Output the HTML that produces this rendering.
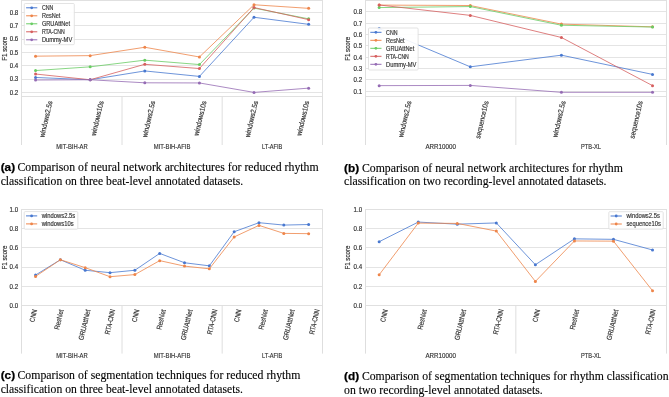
<!DOCTYPE html>
<html><head><meta charset="utf-8"><style>
html,body{margin:0;padding:0;background:#fff;}
body{width:669px;height:397px;overflow:hidden;position:relative;}
</style></head><body>
<svg width="669" height="397" viewBox="0 0 669 397" font-family="Liberation Sans" style="position:absolute;left:0;top:0;filter:blur(0.3px)">
<style>.s{stroke:#333;stroke-width:0.17px;}</style>
<line x1="21.9" y1="92.5" x2="322.3" y2="92.5" stroke="#e4e4e4" stroke-width="1"/>
<text x="18.3" y="94.6" text-anchor="end" font-size="6.75" class="s" fill="#333333" textLength="8.59" lengthAdjust="spacingAndGlyphs">0.2</text>
<line x1="21.9" y1="79.5" x2="322.3" y2="79.5" stroke="#e4e4e4" stroke-width="1"/>
<text x="18.3" y="81.28" text-anchor="end" font-size="6.75" class="s" fill="#333333" textLength="8.59" lengthAdjust="spacingAndGlyphs">0.3</text>
<line x1="21.9" y1="65.5" x2="322.3" y2="65.5" stroke="#e4e4e4" stroke-width="1"/>
<text x="18.3" y="67.96" text-anchor="end" font-size="6.75" class="s" fill="#333333" textLength="8.59" lengthAdjust="spacingAndGlyphs">0.4</text>
<line x1="21.9" y1="52.5" x2="322.3" y2="52.5" stroke="#e4e4e4" stroke-width="1"/>
<text x="18.3" y="54.64" text-anchor="end" font-size="6.75" class="s" fill="#333333" textLength="8.59" lengthAdjust="spacingAndGlyphs">0.5</text>
<line x1="21.9" y1="39.5" x2="322.3" y2="39.5" stroke="#e4e4e4" stroke-width="1"/>
<text x="18.3" y="41.32" text-anchor="end" font-size="6.75" class="s" fill="#333333" textLength="8.59" lengthAdjust="spacingAndGlyphs">0.6</text>
<line x1="21.9" y1="25.5" x2="322.3" y2="25.5" stroke="#e4e4e4" stroke-width="1"/>
<text x="18.3" y="28" text-anchor="end" font-size="6.75" class="s" fill="#333333" textLength="8.59" lengthAdjust="spacingAndGlyphs">0.7</text>
<line x1="21.9" y1="12.5" x2="322.3" y2="12.5" stroke="#e4e4e4" stroke-width="1"/>
<text x="18.3" y="14.68" text-anchor="end" font-size="6.75" class="s" fill="#333333" textLength="8.59" lengthAdjust="spacingAndGlyphs">0.8</text>
<rect x="21.5" y="0.5" width="301" height="96" fill="none" stroke="#e0e0e0" stroke-width="1"/>
<text x="5.4" y="48.7" transform="rotate(-90 5.4 48.7)" text-anchor="middle" font-size="7.12" class="s" fill="#333333" dominant-baseline="central" textLength="24.03" lengthAdjust="spacingAndGlyphs">F1 score</text>
<polyline points="35.55,77.48 90.17,79.75 144.79,70.95 199.41,76.42 254.03,17.28 308.65,24.33" fill="none" stroke="#4878d0" stroke-width="0.8"/>
<circle cx="35.55" cy="77.48" r="1.5" fill="#4878d0"/>
<circle cx="90.17" cy="79.75" r="1.5" fill="#4878d0"/>
<circle cx="144.79" cy="70.95" r="1.5" fill="#4878d0"/>
<circle cx="199.41" cy="76.42" r="1.5" fill="#4878d0"/>
<circle cx="254.03" cy="17.28" r="1.5" fill="#4878d0"/>
<circle cx="308.65" cy="24.33" r="1.5" fill="#4878d0"/>
<polyline points="35.55,56.17 90.17,55.64 144.79,47.25 199.41,56.97 254.03,4.75 308.65,8.35" fill="none" stroke="#ee854a" stroke-width="0.8"/>
<circle cx="35.55" cy="56.17" r="1.5" fill="#ee854a"/>
<circle cx="90.17" cy="55.64" r="1.5" fill="#ee854a"/>
<circle cx="144.79" cy="47.25" r="1.5" fill="#ee854a"/>
<circle cx="199.41" cy="56.97" r="1.5" fill="#ee854a"/>
<circle cx="254.03" cy="4.75" r="1.5" fill="#ee854a"/>
<circle cx="308.65" cy="8.35" r="1.5" fill="#ee854a"/>
<polyline points="35.55,70.56 90.17,66.83 144.79,60.17 199.41,64.56 254.03,8.08 308.65,18.87" fill="none" stroke="#6acc64" stroke-width="0.8"/>
<circle cx="35.55" cy="70.56" r="1.5" fill="#6acc64"/>
<circle cx="90.17" cy="66.83" r="1.5" fill="#6acc64"/>
<circle cx="144.79" cy="60.17" r="1.5" fill="#6acc64"/>
<circle cx="199.41" cy="64.56" r="1.5" fill="#6acc64"/>
<circle cx="254.03" cy="8.08" r="1.5" fill="#6acc64"/>
<circle cx="308.65" cy="18.87" r="1.5" fill="#6acc64"/>
<polyline points="35.55,74.02 90.17,79.75 144.79,64.29 199.41,68.56 254.03,7.55 308.65,19.67" fill="none" stroke="#d65f5f" stroke-width="0.8"/>
<circle cx="35.55" cy="74.02" r="1.5" fill="#d65f5f"/>
<circle cx="90.17" cy="79.75" r="1.5" fill="#d65f5f"/>
<circle cx="144.79" cy="64.29" r="1.5" fill="#d65f5f"/>
<circle cx="199.41" cy="68.56" r="1.5" fill="#d65f5f"/>
<circle cx="254.03" cy="7.55" r="1.5" fill="#d65f5f"/>
<circle cx="308.65" cy="19.67" r="1.5" fill="#d65f5f"/>
<polyline points="35.55,80.01 90.17,79.75 144.79,82.81 199.41,82.94 254.03,92.4 308.65,88.14" fill="none" stroke="#956cb4" stroke-width="0.8"/>
<circle cx="35.55" cy="80.01" r="1.5" fill="#956cb4"/>
<circle cx="90.17" cy="79.75" r="1.5" fill="#956cb4"/>
<circle cx="144.79" cy="82.81" r="1.5" fill="#956cb4"/>
<circle cx="199.41" cy="82.94" r="1.5" fill="#956cb4"/>
<circle cx="254.03" cy="92.4" r="1.5" fill="#956cb4"/>
<circle cx="308.65" cy="88.14" r="1.5" fill="#956cb4"/>
<line x1="21.5" y1="96.5" x2="21.5" y2="145" stroke="#dedede" stroke-width="1"/>
<line x1="122.03" y1="96.5" x2="122.03" y2="145" stroke="#dedede" stroke-width="1"/>
<line x1="222.17" y1="96.5" x2="222.17" y2="145" stroke="#dedede" stroke-width="1"/>
<line x1="322.5" y1="96.5" x2="322.5" y2="145" stroke="#dedede" stroke-width="1"/>
<text x="71.97" y="149.1" text-anchor="middle" font-size="7.25" class="s" fill="#333333" textLength="31.63" lengthAdjust="spacingAndGlyphs">MIT-BIH-AR</text>
<text x="172.1" y="149.1" text-anchor="middle" font-size="7.25" class="s" fill="#333333" textLength="36.62" lengthAdjust="spacingAndGlyphs">MIT-BIH-AFIB</text>
<text x="272.23" y="149.1" text-anchor="middle" font-size="7.25" class="s" fill="#333333" textLength="20.40" lengthAdjust="spacingAndGlyphs">LT-AFIB</text>
<text x="45.9" y="119.13" transform="rotate(-77 45.9 119.13)" text-anchor="middle" dominant-baseline="central" font-size="7.25" class="s" fill="#333333" textLength="37.27" lengthAdjust="spacingAndGlyphs">windows2.5s</text>
<text x="97.3" y="118.23" transform="rotate(-77 97.3 118.23)" text-anchor="middle" dominant-baseline="central" font-size="7.25" class="s" fill="#333333" textLength="35.43" lengthAdjust="spacingAndGlyphs">windows10s</text>
<text x="148.7" y="119.13" transform="rotate(-77 148.7 119.13)" text-anchor="middle" dominant-baseline="central" font-size="7.25" class="s" fill="#333333" textLength="37.27" lengthAdjust="spacingAndGlyphs">windows2.5s</text>
<text x="200.1" y="118.23" transform="rotate(-77 200.1 118.23)" text-anchor="middle" dominant-baseline="central" font-size="7.25" class="s" fill="#333333" textLength="35.43" lengthAdjust="spacingAndGlyphs">windows10s</text>
<text x="251.5" y="119.13" transform="rotate(-77 251.5 119.13)" text-anchor="middle" dominant-baseline="central" font-size="7.25" class="s" fill="#333333" textLength="37.27" lengthAdjust="spacingAndGlyphs">windows2.5s</text>
<text x="302.9" y="118.23" transform="rotate(-77 302.9 118.23)" text-anchor="middle" dominant-baseline="central" font-size="7.25" class="s" fill="#333333" textLength="35.43" lengthAdjust="spacingAndGlyphs">windows10s</text>
<rect x="24.3" y="3.5" width="50" height="41.2" rx="1" fill="#ffffff" fill-opacity="0.9" stroke="#dcdcdc" stroke-width="0.8"/>
<line x1="26.1" y1="7.8" x2="37.3" y2="7.8" stroke="#4878d0" stroke-width="1"/>
<circle cx="31.7" cy="7.8" r="1.4" fill="#4878d0"/>
<text x="41.9" y="10" font-size="6.50" class="s" fill="#333333" textLength="11.41" lengthAdjust="spacingAndGlyphs">CNN</text>
<line x1="26.1" y1="15.8" x2="37.3" y2="15.8" stroke="#ee854a" stroke-width="1"/>
<circle cx="31.7" cy="15.8" r="1.4" fill="#ee854a"/>
<text x="41.9" y="18" font-size="6.50" class="s" fill="#333333" textLength="18.42" lengthAdjust="spacingAndGlyphs">ResNet</text>
<line x1="26.1" y1="23.8" x2="37.3" y2="23.8" stroke="#6acc64" stroke-width="1"/>
<circle cx="31.7" cy="23.8" r="1.4" fill="#6acc64"/>
<text x="41.9" y="26" font-size="6.50" class="s" fill="#333333" textLength="28.12" lengthAdjust="spacingAndGlyphs">GRUAttNet</text>
<line x1="26.1" y1="31.8" x2="37.3" y2="31.8" stroke="#d65f5f" stroke-width="1"/>
<circle cx="31.7" cy="31.8" r="1.4" fill="#d65f5f"/>
<text x="41.9" y="34" font-size="6.50" class="s" fill="#333333" textLength="22.74" lengthAdjust="spacingAndGlyphs">RTA-CNN</text>
<line x1="26.1" y1="39.8" x2="37.3" y2="39.8" stroke="#956cb4" stroke-width="1"/>
<circle cx="31.7" cy="39.8" r="1.4" fill="#956cb4"/>
<text x="41.9" y="42" font-size="6.50" class="s" fill="#333333" textLength="30.34" lengthAdjust="spacingAndGlyphs">Dummy-MV</text>
<line x1="365.5" y1="91.5" x2="666.2" y2="91.5" stroke="#e4e4e4" stroke-width="1"/>
<text x="362.1" y="93.5" text-anchor="end" font-size="6.75" class="s" fill="#333333" textLength="8.59" lengthAdjust="spacingAndGlyphs">0.1</text>
<line x1="365.5" y1="79.5" x2="666.2" y2="79.5" stroke="#e4e4e4" stroke-width="1"/>
<text x="362.1" y="82.17" text-anchor="end" font-size="6.75" class="s" fill="#333333" textLength="8.59" lengthAdjust="spacingAndGlyphs">0.2</text>
<line x1="365.5" y1="68.5" x2="666.2" y2="68.5" stroke="#e4e4e4" stroke-width="1"/>
<text x="362.1" y="70.84" text-anchor="end" font-size="6.75" class="s" fill="#333333" textLength="8.59" lengthAdjust="spacingAndGlyphs">0.3</text>
<line x1="365.5" y1="57.5" x2="666.2" y2="57.5" stroke="#e4e4e4" stroke-width="1"/>
<text x="362.1" y="59.51" text-anchor="end" font-size="6.75" class="s" fill="#333333" textLength="8.59" lengthAdjust="spacingAndGlyphs">0.4</text>
<line x1="365.5" y1="45.5" x2="666.2" y2="45.5" stroke="#e4e4e4" stroke-width="1"/>
<text x="362.1" y="48.18" text-anchor="end" font-size="6.75" class="s" fill="#333333" textLength="8.59" lengthAdjust="spacingAndGlyphs">0.5</text>
<line x1="365.5" y1="34.5" x2="666.2" y2="34.5" stroke="#e4e4e4" stroke-width="1"/>
<text x="362.1" y="36.85" text-anchor="end" font-size="6.75" class="s" fill="#333333" textLength="8.59" lengthAdjust="spacingAndGlyphs">0.6</text>
<line x1="365.5" y1="23.5" x2="666.2" y2="23.5" stroke="#e4e4e4" stroke-width="1"/>
<text x="362.1" y="25.52" text-anchor="end" font-size="6.75" class="s" fill="#333333" textLength="8.59" lengthAdjust="spacingAndGlyphs">0.7</text>
<line x1="365.5" y1="11.5" x2="666.2" y2="11.5" stroke="#e4e4e4" stroke-width="1"/>
<text x="362.1" y="14.19" text-anchor="end" font-size="6.75" class="s" fill="#333333" textLength="8.59" lengthAdjust="spacingAndGlyphs">0.8</text>
<rect x="365.5" y="0.5" width="301" height="96" fill="none" stroke="#e0e0e0" stroke-width="1"/>
<text x="348.5" y="48.8" transform="rotate(-90 348.5 48.8)" text-anchor="middle" font-size="7.12" class="s" fill="#333333" dominant-baseline="central" textLength="24.03" lengthAdjust="spacingAndGlyphs">F1 score</text>
<polyline points="379.17,28.53 470.29,66.83 561.41,55.16 652.53,74.42" fill="none" stroke="#4878d0" stroke-width="0.8"/>
<circle cx="379.17" cy="28.53" r="1.5" fill="#4878d0"/>
<circle cx="470.29" cy="66.83" r="1.5" fill="#4878d0"/>
<circle cx="561.41" cy="55.16" r="1.5" fill="#4878d0"/>
<circle cx="652.53" cy="74.42" r="1.5" fill="#4878d0"/>
<polyline points="379.17,5.08 470.29,5.53 561.41,24.11 652.53,26.83" fill="none" stroke="#ee854a" stroke-width="0.8"/>
<circle cx="379.17" cy="5.08" r="1.5" fill="#ee854a"/>
<circle cx="470.29" cy="5.53" r="1.5" fill="#ee854a"/>
<circle cx="561.41" cy="24.11" r="1.5" fill="#ee854a"/>
<circle cx="652.53" cy="26.83" r="1.5" fill="#ee854a"/>
<polyline points="379.17,7.57 470.29,6.55 561.41,25.25 652.53,27.06" fill="none" stroke="#6acc64" stroke-width="0.8"/>
<circle cx="379.17" cy="7.57" r="1.5" fill="#6acc64"/>
<circle cx="470.29" cy="6.55" r="1.5" fill="#6acc64"/>
<circle cx="561.41" cy="25.25" r="1.5" fill="#6acc64"/>
<circle cx="652.53" cy="27.06" r="1.5" fill="#6acc64"/>
<polyline points="379.17,4.97 470.29,15.39 561.41,37.48 652.53,85.64" fill="none" stroke="#d65f5f" stroke-width="0.8"/>
<circle cx="379.17" cy="4.97" r="1.5" fill="#d65f5f"/>
<circle cx="470.29" cy="15.39" r="1.5" fill="#d65f5f"/>
<circle cx="561.41" cy="37.48" r="1.5" fill="#d65f5f"/>
<circle cx="652.53" cy="85.64" r="1.5" fill="#d65f5f"/>
<polyline points="379.17,85.64 470.29,85.41 561.41,92.32 652.53,92.32" fill="none" stroke="#956cb4" stroke-width="0.8"/>
<circle cx="379.17" cy="85.64" r="1.5" fill="#956cb4"/>
<circle cx="470.29" cy="85.41" r="1.5" fill="#956cb4"/>
<circle cx="561.41" cy="92.32" r="1.5" fill="#956cb4"/>
<circle cx="652.53" cy="92.32" r="1.5" fill="#956cb4"/>
<line x1="365.5" y1="96.5" x2="365.5" y2="145" stroke="#dedede" stroke-width="1"/>
<line x1="515.85" y1="96.5" x2="515.85" y2="145" stroke="#dedede" stroke-width="1"/>
<line x1="666.5" y1="96.5" x2="666.5" y2="145" stroke="#dedede" stroke-width="1"/>
<text x="440.68" y="149.1" text-anchor="middle" font-size="7.25" class="s" fill="#333333" textLength="30.48" lengthAdjust="spacingAndGlyphs">ARR10000</text>
<text x="591.03" y="149.1" text-anchor="middle" font-size="7.25" class="s" fill="#333333" textLength="20.03" lengthAdjust="spacingAndGlyphs">PTB-XL</text>
<text x="404.8" y="119.13" transform="rotate(-77 404.8 119.13)" text-anchor="middle" dominant-baseline="central" font-size="7.25" class="s" fill="#333333" textLength="37.27" lengthAdjust="spacingAndGlyphs">windows2.5s</text>
<text x="481.9" y="119.65" transform="rotate(-77 481.9 119.65)" text-anchor="middle" dominant-baseline="central" font-size="7.25" class="s" fill="#333333" textLength="38.35" lengthAdjust="spacingAndGlyphs">sequence10s</text>
<text x="559" y="119.13" transform="rotate(-77 559 119.13)" text-anchor="middle" dominant-baseline="central" font-size="7.25" class="s" fill="#333333" textLength="37.27" lengthAdjust="spacingAndGlyphs">windows2.5s</text>
<text x="636.1" y="119.65" transform="rotate(-77 636.1 119.65)" text-anchor="middle" dominant-baseline="central" font-size="7.25" class="s" fill="#333333" textLength="38.35" lengthAdjust="spacingAndGlyphs">sequence10s</text>
<rect x="368.5" y="28" width="49.6" height="42" rx="1" fill="#ffffff" fill-opacity="0.9" stroke="#dcdcdc" stroke-width="0.8"/>
<line x1="370.3" y1="32.3" x2="381.5" y2="32.3" stroke="#4878d0" stroke-width="1"/>
<circle cx="375.9" cy="32.3" r="1.4" fill="#4878d0"/>
<text x="386.1" y="34.5" font-size="6.50" class="s" fill="#333333" textLength="11.41" lengthAdjust="spacingAndGlyphs">CNN</text>
<line x1="370.3" y1="40.3" x2="381.5" y2="40.3" stroke="#ee854a" stroke-width="1"/>
<circle cx="375.9" cy="40.3" r="1.4" fill="#ee854a"/>
<text x="386.1" y="42.5" font-size="6.50" class="s" fill="#333333" textLength="18.42" lengthAdjust="spacingAndGlyphs">ResNet</text>
<line x1="370.3" y1="48.3" x2="381.5" y2="48.3" stroke="#6acc64" stroke-width="1"/>
<circle cx="375.9" cy="48.3" r="1.4" fill="#6acc64"/>
<text x="386.1" y="50.5" font-size="6.50" class="s" fill="#333333" textLength="28.12" lengthAdjust="spacingAndGlyphs">GRUAttNet</text>
<line x1="370.3" y1="56.3" x2="381.5" y2="56.3" stroke="#d65f5f" stroke-width="1"/>
<circle cx="375.9" cy="56.3" r="1.4" fill="#d65f5f"/>
<text x="386.1" y="58.5" font-size="6.50" class="s" fill="#333333" textLength="22.74" lengthAdjust="spacingAndGlyphs">RTA-CNN</text>
<line x1="370.3" y1="64.3" x2="381.5" y2="64.3" stroke="#956cb4" stroke-width="1"/>
<circle cx="375.9" cy="64.3" r="1.4" fill="#956cb4"/>
<text x="386.1" y="66.5" font-size="6.50" class="s" fill="#333333" textLength="30.34" lengthAdjust="spacingAndGlyphs">Dummy-MV</text>
<line x1="21.9" y1="305.5" x2="322.3" y2="305.5" stroke="#e4e4e4" stroke-width="1"/>
<text x="18.2" y="307.8" text-anchor="end" font-size="6.75" class="s" fill="#333333" textLength="8.59" lengthAdjust="spacingAndGlyphs">0.0</text>
<line x1="21.9" y1="286.5" x2="322.3" y2="286.5" stroke="#e4e4e4" stroke-width="1"/>
<text x="18.2" y="288.54" text-anchor="end" font-size="6.75" class="s" fill="#333333" textLength="8.59" lengthAdjust="spacingAndGlyphs">0.2</text>
<line x1="21.9" y1="267.5" x2="322.3" y2="267.5" stroke="#e4e4e4" stroke-width="1"/>
<text x="18.2" y="269.28" text-anchor="end" font-size="6.75" class="s" fill="#333333" textLength="8.59" lengthAdjust="spacingAndGlyphs">0.4</text>
<line x1="21.9" y1="247.5" x2="322.3" y2="247.5" stroke="#e4e4e4" stroke-width="1"/>
<text x="18.2" y="250.02" text-anchor="end" font-size="6.75" class="s" fill="#333333" textLength="8.59" lengthAdjust="spacingAndGlyphs">0.6</text>
<line x1="21.9" y1="228.5" x2="322.3" y2="228.5" stroke="#e4e4e4" stroke-width="1"/>
<text x="18.2" y="230.76" text-anchor="end" font-size="6.75" class="s" fill="#333333" textLength="8.59" lengthAdjust="spacingAndGlyphs">0.8</text>
<line x1="21.9" y1="209.5" x2="322.3" y2="209.5" stroke="#e4e4e4" stroke-width="1"/>
<text x="18.2" y="211.5" text-anchor="end" font-size="6.75" class="s" fill="#333333" textLength="8.59" lengthAdjust="spacingAndGlyphs">1.0</text>
<rect x="21.5" y="209.5" width="301" height="96" fill="none" stroke="#e0e0e0" stroke-width="1"/>
<text x="5.4" y="257.45" transform="rotate(-90 5.4 257.45)" text-anchor="middle" font-size="7.12" class="s" fill="#333333" dominant-baseline="central" textLength="24.03" lengthAdjust="spacingAndGlyphs">F1 score</text>
<polyline points="35.55,275.07 60.38,259.76 85.21,270.26 110.03,272.67 134.86,270.26 159.69,253.41 184.51,262.75 209.34,265.83 234.17,231.74 258.99,222.69 283.82,225.09 308.65,224.52" fill="none" stroke="#4878d0" stroke-width="0.8"/>
<circle cx="35.55" cy="275.07" r="1.5" fill="#4878d0"/>
<circle cx="60.38" cy="259.76" r="1.5" fill="#4878d0"/>
<circle cx="85.21" cy="270.26" r="1.5" fill="#4878d0"/>
<circle cx="110.03" cy="272.67" r="1.5" fill="#4878d0"/>
<circle cx="134.86" cy="270.26" r="1.5" fill="#4878d0"/>
<circle cx="159.69" cy="253.41" r="1.5" fill="#4878d0"/>
<circle cx="184.51" cy="262.75" r="1.5" fill="#4878d0"/>
<circle cx="209.34" cy="265.83" r="1.5" fill="#4878d0"/>
<circle cx="234.17" cy="231.74" r="1.5" fill="#4878d0"/>
<circle cx="258.99" cy="222.69" r="1.5" fill="#4878d0"/>
<circle cx="283.82" cy="225.09" r="1.5" fill="#4878d0"/>
<circle cx="308.65" cy="224.52" r="1.5" fill="#4878d0"/>
<polyline points="35.55,276.42 60.38,259.76 85.21,267.66 110.03,276.71 134.86,274.59 159.69,260.63 184.51,266.12 209.34,268.81 234.17,236.94 258.99,225.38 283.82,233.38 308.65,233.66" fill="none" stroke="#ee854a" stroke-width="0.8"/>
<circle cx="35.55" cy="276.42" r="1.5" fill="#ee854a"/>
<circle cx="60.38" cy="259.76" r="1.5" fill="#ee854a"/>
<circle cx="85.21" cy="267.66" r="1.5" fill="#ee854a"/>
<circle cx="110.03" cy="276.71" r="1.5" fill="#ee854a"/>
<circle cx="134.86" cy="274.59" r="1.5" fill="#ee854a"/>
<circle cx="159.69" cy="260.63" r="1.5" fill="#ee854a"/>
<circle cx="184.51" cy="266.12" r="1.5" fill="#ee854a"/>
<circle cx="209.34" cy="268.81" r="1.5" fill="#ee854a"/>
<circle cx="234.17" cy="236.94" r="1.5" fill="#ee854a"/>
<circle cx="258.99" cy="225.38" r="1.5" fill="#ee854a"/>
<circle cx="283.82" cy="233.38" r="1.5" fill="#ee854a"/>
<circle cx="308.65" cy="233.66" r="1.5" fill="#ee854a"/>
<line x1="21.5" y1="305.5" x2="21.5" y2="353.6" stroke="#dedede" stroke-width="1"/>
<line x1="122.03" y1="305.5" x2="122.03" y2="353.6" stroke="#dedede" stroke-width="1"/>
<line x1="222.17" y1="305.5" x2="222.17" y2="353.6" stroke="#dedede" stroke-width="1"/>
<line x1="322.5" y1="305.5" x2="322.5" y2="353.6" stroke="#dedede" stroke-width="1"/>
<text x="71.97" y="357.7" text-anchor="middle" font-size="7.25" class="s" fill="#333333" textLength="31.63" lengthAdjust="spacingAndGlyphs">MIT-BIH-AR</text>
<text x="172.1" y="357.7" text-anchor="middle" font-size="7.25" class="s" fill="#333333" textLength="36.62" lengthAdjust="spacingAndGlyphs">MIT-BIH-AFIB</text>
<text x="272.23" y="357.7" text-anchor="middle" font-size="7.25" class="s" fill="#333333" textLength="20.40" lengthAdjust="spacingAndGlyphs">LT-AFIB</text>
<text x="33.3" y="315.67" transform="rotate(-77 33.3 315.67)" text-anchor="middle" dominant-baseline="central" font-size="7.25" class="s" fill="#333333" textLength="12.73" lengthAdjust="spacingAndGlyphs">CNN</text>
<text x="58.85" y="319.48" transform="rotate(-77 58.85 319.48)" text-anchor="middle" dominant-baseline="central" font-size="7.25" class="s" fill="#333333" textLength="20.54" lengthAdjust="spacingAndGlyphs">ResNet</text>
<text x="84.4" y="324.75" transform="rotate(-77 84.4 324.75)" text-anchor="middle" dominant-baseline="central" font-size="7.25" class="s" fill="#333333" textLength="31.36" lengthAdjust="spacingAndGlyphs">GRUAttNet</text>
<text x="109.95" y="321.83" transform="rotate(-77 109.95 321.83)" text-anchor="middle" dominant-baseline="central" font-size="7.25" class="s" fill="#333333" textLength="25.36" lengthAdjust="spacingAndGlyphs">RTA-CNN</text>
<text x="135.5" y="315.67" transform="rotate(-77 135.5 315.67)" text-anchor="middle" dominant-baseline="central" font-size="7.25" class="s" fill="#333333" textLength="12.73" lengthAdjust="spacingAndGlyphs">CNN</text>
<text x="161.05" y="319.48" transform="rotate(-77 161.05 319.48)" text-anchor="middle" dominant-baseline="central" font-size="7.25" class="s" fill="#333333" textLength="20.54" lengthAdjust="spacingAndGlyphs">ResNet</text>
<text x="186.6" y="324.75" transform="rotate(-77 186.6 324.75)" text-anchor="middle" dominant-baseline="central" font-size="7.25" class="s" fill="#333333" textLength="31.36" lengthAdjust="spacingAndGlyphs">GRUAttNet</text>
<text x="212.15" y="321.83" transform="rotate(-77 212.15 321.83)" text-anchor="middle" dominant-baseline="central" font-size="7.25" class="s" fill="#333333" textLength="25.36" lengthAdjust="spacingAndGlyphs">RTA-CNN</text>
<text x="237.7" y="315.67" transform="rotate(-77 237.7 315.67)" text-anchor="middle" dominant-baseline="central" font-size="7.25" class="s" fill="#333333" textLength="12.73" lengthAdjust="spacingAndGlyphs">CNN</text>
<text x="263.25" y="319.48" transform="rotate(-77 263.25 319.48)" text-anchor="middle" dominant-baseline="central" font-size="7.25" class="s" fill="#333333" textLength="20.54" lengthAdjust="spacingAndGlyphs">ResNet</text>
<text x="288.8" y="324.75" transform="rotate(-77 288.8 324.75)" text-anchor="middle" dominant-baseline="central" font-size="7.25" class="s" fill="#333333" textLength="31.36" lengthAdjust="spacingAndGlyphs">GRUAttNet</text>
<text x="314.35" y="321.83" transform="rotate(-77 314.35 321.83)" text-anchor="middle" dominant-baseline="central" font-size="7.25" class="s" fill="#333333" textLength="25.36" lengthAdjust="spacingAndGlyphs">RTA-CNN</text>
<rect x="24.2" y="211.6" width="53.6" height="17.6" rx="1" fill="#ffffff" fill-opacity="0.9" stroke="#dcdcdc" stroke-width="0.8"/>
<line x1="26" y1="215.9" x2="37.2" y2="215.9" stroke="#4878d0" stroke-width="1"/>
<circle cx="31.6" cy="215.9" r="1.4" fill="#4878d0"/>
<text x="41.8" y="218.1" font-size="6.50" class="s" fill="#333333" textLength="33.42" lengthAdjust="spacingAndGlyphs">windows2.5s</text>
<line x1="26" y1="223.9" x2="37.2" y2="223.9" stroke="#ee854a" stroke-width="1"/>
<circle cx="31.6" cy="223.9" r="1.4" fill="#ee854a"/>
<text x="41.8" y="226.1" font-size="6.50" class="s" fill="#333333" textLength="31.76" lengthAdjust="spacingAndGlyphs">windows10s</text>
<line x1="365.5" y1="305.5" x2="666.2" y2="305.5" stroke="#e4e4e4" stroke-width="1"/>
<text x="362.2" y="307.7" text-anchor="end" font-size="6.75" class="s" fill="#333333" textLength="8.59" lengthAdjust="spacingAndGlyphs">0.0</text>
<line x1="365.5" y1="286.5" x2="666.2" y2="286.5" stroke="#e4e4e4" stroke-width="1"/>
<text x="362.2" y="288.52" text-anchor="end" font-size="6.75" class="s" fill="#333333" textLength="8.59" lengthAdjust="spacingAndGlyphs">0.2</text>
<line x1="365.5" y1="267.5" x2="666.2" y2="267.5" stroke="#e4e4e4" stroke-width="1"/>
<text x="362.2" y="269.34" text-anchor="end" font-size="6.75" class="s" fill="#333333" textLength="8.59" lengthAdjust="spacingAndGlyphs">0.4</text>
<line x1="365.5" y1="247.5" x2="666.2" y2="247.5" stroke="#e4e4e4" stroke-width="1"/>
<text x="362.2" y="250.16" text-anchor="end" font-size="6.75" class="s" fill="#333333" textLength="8.59" lengthAdjust="spacingAndGlyphs">0.6</text>
<line x1="365.5" y1="228.5" x2="666.2" y2="228.5" stroke="#e4e4e4" stroke-width="1"/>
<text x="362.2" y="230.98" text-anchor="end" font-size="6.75" class="s" fill="#333333" textLength="8.59" lengthAdjust="spacingAndGlyphs">0.8</text>
<line x1="365.5" y1="209.5" x2="666.2" y2="209.5" stroke="#e4e4e4" stroke-width="1"/>
<text x="362.2" y="211.8" text-anchor="end" font-size="6.75" class="s" fill="#333333" textLength="8.59" lengthAdjust="spacingAndGlyphs">1.0</text>
<rect x="365.5" y="209.5" width="301" height="96" fill="none" stroke="#e0e0e0" stroke-width="1"/>
<text x="348.5" y="257.55" transform="rotate(-90 348.5 257.55)" text-anchor="middle" font-size="7.12" class="s" fill="#333333" dominant-baseline="central" textLength="24.03" lengthAdjust="spacingAndGlyphs">F1 score</text>
<polyline points="379.17,241.73 418.22,222.07 457.27,224.18 496.32,222.93 535.38,264.74 574.43,238.85 613.48,239.33 652.53,249.97" fill="none" stroke="#4878d0" stroke-width="0.8"/>
<circle cx="379.17" cy="241.73" r="1.5" fill="#4878d0"/>
<circle cx="418.22" cy="222.07" r="1.5" fill="#4878d0"/>
<circle cx="457.27" cy="224.18" r="1.5" fill="#4878d0"/>
<circle cx="496.32" cy="222.93" r="1.5" fill="#4878d0"/>
<circle cx="535.38" cy="264.74" r="1.5" fill="#4878d0"/>
<circle cx="574.43" cy="238.85" r="1.5" fill="#4878d0"/>
<circle cx="613.48" cy="239.33" r="1.5" fill="#4878d0"/>
<circle cx="652.53" cy="249.97" r="1.5" fill="#4878d0"/>
<polyline points="379.17,274.81 418.22,223.12 457.27,223.41 496.32,231.08 535.38,281.43 574.43,240.96 613.48,241.15 652.53,290.73" fill="none" stroke="#ee854a" stroke-width="0.8"/>
<circle cx="379.17" cy="274.81" r="1.5" fill="#ee854a"/>
<circle cx="418.22" cy="223.12" r="1.5" fill="#ee854a"/>
<circle cx="457.27" cy="223.41" r="1.5" fill="#ee854a"/>
<circle cx="496.32" cy="231.08" r="1.5" fill="#ee854a"/>
<circle cx="535.38" cy="281.43" r="1.5" fill="#ee854a"/>
<circle cx="574.43" cy="240.96" r="1.5" fill="#ee854a"/>
<circle cx="613.48" cy="241.15" r="1.5" fill="#ee854a"/>
<circle cx="652.53" cy="290.73" r="1.5" fill="#ee854a"/>
<line x1="365.5" y1="305.5" x2="365.5" y2="353.6" stroke="#dedede" stroke-width="1"/>
<line x1="515.85" y1="305.5" x2="515.85" y2="353.6" stroke="#dedede" stroke-width="1"/>
<line x1="666.5" y1="305.5" x2="666.5" y2="353.6" stroke="#dedede" stroke-width="1"/>
<text x="440.68" y="357.7" text-anchor="middle" font-size="7.25" class="s" fill="#333333" textLength="30.48" lengthAdjust="spacingAndGlyphs">ARR10000</text>
<text x="591.03" y="357.7" text-anchor="middle" font-size="7.25" class="s" fill="#333333" textLength="20.03" lengthAdjust="spacingAndGlyphs">PTB-XL</text>
<text x="384.1" y="315.67" transform="rotate(-77 384.1 315.67)" text-anchor="middle" dominant-baseline="central" font-size="7.25" class="s" fill="#333333" textLength="12.73" lengthAdjust="spacingAndGlyphs">CNN</text>
<text x="422.16" y="319.48" transform="rotate(-77 422.16 319.48)" text-anchor="middle" dominant-baseline="central" font-size="7.25" class="s" fill="#333333" textLength="20.54" lengthAdjust="spacingAndGlyphs">ResNet</text>
<text x="460.22" y="324.75" transform="rotate(-77 460.22 324.75)" text-anchor="middle" dominant-baseline="central" font-size="7.25" class="s" fill="#333333" textLength="31.36" lengthAdjust="spacingAndGlyphs">GRUAttNet</text>
<text x="498.28" y="321.83" transform="rotate(-77 498.28 321.83)" text-anchor="middle" dominant-baseline="central" font-size="7.25" class="s" fill="#333333" textLength="25.36" lengthAdjust="spacingAndGlyphs">RTA-CNN</text>
<text x="536.34" y="315.67" transform="rotate(-77 536.34 315.67)" text-anchor="middle" dominant-baseline="central" font-size="7.25" class="s" fill="#333333" textLength="12.73" lengthAdjust="spacingAndGlyphs">CNN</text>
<text x="574.4" y="319.48" transform="rotate(-77 574.4 319.48)" text-anchor="middle" dominant-baseline="central" font-size="7.25" class="s" fill="#333333" textLength="20.54" lengthAdjust="spacingAndGlyphs">ResNet</text>
<text x="612.46" y="324.75" transform="rotate(-77 612.46 324.75)" text-anchor="middle" dominant-baseline="central" font-size="7.25" class="s" fill="#333333" textLength="31.36" lengthAdjust="spacingAndGlyphs">GRUAttNet</text>
<text x="650.52" y="321.83" transform="rotate(-77 650.52 321.83)" text-anchor="middle" dominant-baseline="central" font-size="7.25" class="s" fill="#333333" textLength="25.36" lengthAdjust="spacingAndGlyphs">RTA-CNN</text>
<rect x="608.8" y="211.7" width="54.4" height="17.4" rx="1" fill="#ffffff" fill-opacity="0.9" stroke="#dcdcdc" stroke-width="0.8"/>
<line x1="610.6" y1="216" x2="621.8" y2="216" stroke="#4878d0" stroke-width="1"/>
<circle cx="616.2" cy="216" r="1.4" fill="#4878d0"/>
<text x="626.4" y="218.2" font-size="6.50" class="s" fill="#333333" textLength="33.42" lengthAdjust="spacingAndGlyphs">windows2.5s</text>
<line x1="610.6" y1="224" x2="621.8" y2="224" stroke="#ee854a" stroke-width="1"/>
<circle cx="616.2" cy="224" r="1.4" fill="#ee854a"/>
<text x="626.4" y="226.2" font-size="6.50" class="s" fill="#333333" textLength="34.38" lengthAdjust="spacingAndGlyphs">sequence10s</text>
<text x="0.7" y="171.1" font-size="11.8" fill="#000" stroke="#000" stroke-width="0.25" font-family="Liberation Sans" font-weight="bold">(a)</text>
<text x="17.5" y="171.1" font-size="11.8" fill="#000" stroke="#000" stroke-width="0.12" font-family="Liberation Serif" textLength="301.1" lengthAdjust="spacingAndGlyphs">Comparison of neural network architectures for reduced rhythm</text>
<text x="0.7" y="185.3" font-size="11.8" fill="#000" stroke="#000" stroke-width="0.12" font-family="Liberation Serif" textLength="242.5" lengthAdjust="spacingAndGlyphs">classification on three beat-level annotated datasets.</text>
<text x="344.1" y="171.7" font-size="11.8" fill="#000" stroke="#000" stroke-width="0.25" font-family="Liberation Sans" font-weight="bold">(b)</text>
<text x="361.9" y="171.7" font-size="11.8" fill="#000" stroke="#000" stroke-width="0.12" font-family="Liberation Serif" textLength="260.9" lengthAdjust="spacingAndGlyphs">Comparison of neural network architectures for rhythm</text>
<text x="344.1" y="185.4" font-size="11.8" fill="#000" stroke="#000" stroke-width="0.12" font-family="Liberation Serif" textLength="262.3" lengthAdjust="spacingAndGlyphs">classification on two recording-level annotated datasets.</text>
<text x="0.7" y="379.3" font-size="11.8" fill="#000" stroke="#000" stroke-width="0.25" font-family="Liberation Sans" font-weight="bold">(c)</text>
<text x="17.5" y="379.3" font-size="11.8" fill="#000" stroke="#000" stroke-width="0.12" font-family="Liberation Serif" textLength="282.9" lengthAdjust="spacingAndGlyphs">Comparison of segmentation techniques for reduced rhythm</text>
<text x="0.7" y="393.4" font-size="11.8" fill="#000" stroke="#000" stroke-width="0.12" font-family="Liberation Serif" textLength="242.2" lengthAdjust="spacingAndGlyphs">classification on three beat-level annotated datasets.</text>
<text x="344.1" y="379.5" font-size="11.8" fill="#000" stroke="#000" stroke-width="0.25" font-family="Liberation Sans" font-weight="bold">(d)</text>
<text x="361.9" y="379.5" font-size="11.8" fill="#000" stroke="#000" stroke-width="0.12" font-family="Liberation Serif" textLength="306.7" lengthAdjust="spacingAndGlyphs">Comparison of segmentation techniques for rhythm classification</text>
<text x="344.1" y="393.6" font-size="11.8" fill="#000" stroke="#000" stroke-width="0.12" font-family="Liberation Serif" textLength="198.7" lengthAdjust="spacingAndGlyphs">on two recording-level annotated datasets.</text>
</svg>
</body></html>
